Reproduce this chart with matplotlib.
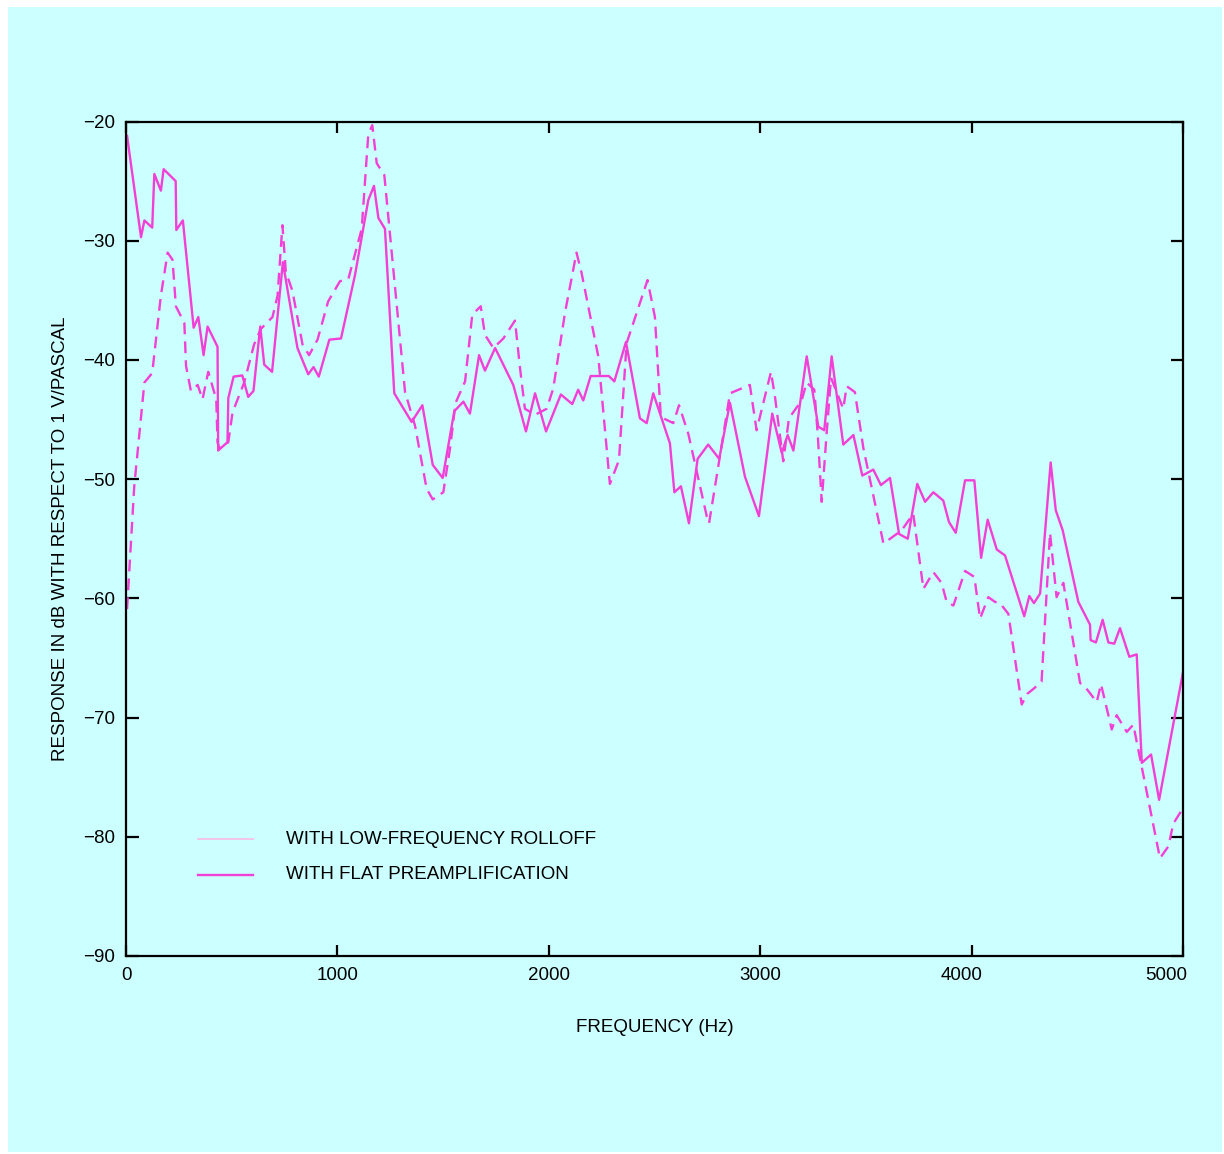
"""Microphone response vs frequency, with and without low-frequency rolloff."""

import numpy as np
import matplotlib
matplotlib.use("Agg")
import matplotlib.pyplot as plt
from matplotlib.patches import Rectangle
from matplotlib.transforms import ScaledTranslation

# Flat preamplification (solid curve)
flat_hz = [5, 71, 87, 124, 134, 165, 178, 235, 238, 269, 320, 342, 367, 386, 433,
           436, 480, 484, 509, 550, 578, 603, 635, 654, 691, 742, 811, 862, 887,
           912, 962, 1017, 1083, 1146, 1173, 1194, 1225, 1269, 1351, 1402, 1451,
           1498, 1553, 1596, 1627, 1670, 1698, 1746, 1832, 1892, 1935, 1987, 2057,
           2111, 2139, 2163, 2198, 2284, 2310, 2365, 2431, 2463, 2494, 2573, 2594,
           2625, 2663, 2704, 2754, 2806, 2857, 2928, 2994, 3057, 3102, 3130, 3157,
           3220, 3275, 3303, 3338, 3393, 3441, 3483, 3535, 3571, 3614, 3657, 3698,
           3743, 3780, 3819, 3866, 3893, 3925, 3969, 4013, 4045, 4076, 4119, 4158,
           4249, 4273, 4295, 4324, 4374, 4398, 4431, 4505, 4560, 4563, 4588, 4620,
           4647, 4675, 4702, 4746, 4781, 4805, 4849, 4887, 5000]
flat_db = [-21.2, -29.7, -28.3, -28.9, -24.4, -25.8, -24.0, -25.0, -29.1, -28.3,
           -37.3, -36.4, -39.6, -37.2, -38.9, -47.6, -46.9, -43.2, -41.4, -41.3,
           -43.1, -42.6, -37.2, -40.4, -41.0, -31.8, -39.0, -41.2, -40.6, -41.4,
           -38.3, -38.2, -32.9, -26.6, -25.4, -28.1, -29.0, -42.8, -45.2, -43.8,
           -48.8, -49.9, -44.3, -43.5, -44.5, -39.6, -40.9, -39.0, -42.1, -46.0,
           -42.8, -46.0, -42.9, -43.7, -42.5, -43.4, -41.35, -41.35, -41.8, -38.5,
           -44.9, -45.3, -42.8, -47.0, -51.1, -50.6, -53.7, -48.3, -47.1, -48.3,
           -43.6, -49.8, -53.1, -44.5, -47.8, -46.3, -47.6, -39.7, -45.6, -45.9,
           -39.7, -47.1, -46.3, -49.7, -49.2, -50.5, -49.9, -54.6, -55.0, -50.4,
           -51.9, -51.1, -51.8, -53.6, -54.5, -50.1, -50.1, -56.6, -53.4, -55.9,
           -56.4, -61.5, -59.8, -60.4, -59.6, -48.6, -52.6, -54.3, -60.3, -62.2,
           -63.5, -63.7, -61.8, -63.7, -63.8, -62.5, -64.9, -64.7, -73.8, -73.1,
           -76.9, -66.2]

# Low-frequency rolloff (dashed curve)
roll_hz = [5, 39, 87, 124, 165, 197, 220, 236, 276, 284, 307, 339, 362, 389, 427,
           433, 441, 484, 504, 559, 606, 638, 693, 717, 740, 756, 787, 835, 866,
           906, 956, 1012, 1052, 1115, 1146, 1165, 1186, 1222, 1320, 1367, 1422,
           1451, 1501, 1533, 1559, 1604, 1638, 1678, 1698, 1738, 1785, 1840, 1864,
           1887, 1935, 1990, 2021, 2077, 2131, 2155, 2234, 2289, 2332, 2368, 2467,
           2502, 2530, 2589, 2616, 2660, 2747, 2758, 2802, 2857, 2951, 2983, 3051,
           3070, 3109, 3136, 3196, 3220, 3256, 3272, 3291, 3314, 3335, 3393, 3409,
           3448, 3488, 3583, 3669, 3724, 3772, 3819, 3858, 3882, 3914, 3969, 4013,
           4040, 4079, 4111, 4134, 4174, 4237, 4264, 4292, 4331, 4371, 4402, 4434,
           4513, 4536, 4592, 4612, 4663, 4686, 4734, 4765, 4891, 4931, 4954, 5000]
roll_db = [-60.9, -50.6, -41.9, -41.1, -34.6, -31.0, -31.6, -35.5, -36.9, -40.5,
           -42.6, -42.1, -43.3, -41.0, -43.3, -46.9, -47.4, -46.9, -44.4, -41.9,
           -38.7, -37.4, -36.4, -34.6, -28.7, -32.6, -34.2, -38.7, -39.6, -38.3,
           -35.1, -33.4, -33.2, -29.0, -21.1, -20.3, -23.5, -24.5, -42.7, -45.5,
           -50.8, -51.7, -51.1, -47.4, -43.6, -41.8, -36.2, -35.5, -37.9, -39.0,
           -38.2, -36.7, -40.7, -44.1, -44.6, -44.1, -42.4, -36.0, -31.0, -32.7,
           -39.7, -50.4, -48.4, -38.6, -33.3, -36.4, -44.8, -45.3, -43.8, -46.2,
           -53.1, -53.7, -48.9, -42.8, -42.1, -45.9, -41.0, -43.1, -48.5, -44.9,
           -43.4, -41.9, -42.5, -46.2, -51.9, -46.2, -41.5, -44.1, -42.2, -42.7,
           -47.4, -55.4, -54.3, -52.9, -59.2, -57.8, -58.7, -60.3, -60.6, -57.7,
           -58.2, -61.7, -59.9, -60.3, -60.4, -61.3, -68.9, -68.0, -67.6, -67.0,
           -54.5, -59.9, -58.7, -67.1, -67.4, -68.7, -67.2, -71.0, -69.8, -71.2,
           -70.6, -81.8, -80.8, -78.9, -77.6]

X_TICKS = [0, 1000, 2000, 3000, 4000, 5000]
Y_TICKS = [-90, -80, -70, -60, -50, -40, -30, -20]

LINE = "#f23fd6"
LEGEND_PALE = "#f7bfe9"
BG = "#ccffff"

plt.rcParams.update({
    "font.family": ["Liberation Sans", "DejaVu Sans"],
    "font.size": 13,
    "axes.linewidth": 1.6,
    "xtick.direction": "in",
    "ytick.direction": "in",
    "xtick.top": True,
    "ytick.right": True,
    "xtick.major.width": 1.6,
    "ytick.major.width": 1.6,
    "xtick.major.size": 8,
    "ytick.major.size": 9,
})

fig = plt.figure(figsize=(12.24, 11.54), dpi=100)
fig.patch.set_facecolor("white")
bg_rect = Rectangle((8 / 1224, 2 / 1154), 1214 / 1224, 1145 / 1154,
                    transform=fig.transFigure, facecolor=BG, edgecolor="none")
bg_rect.set_zorder(-10)
fig.add_artist(bg_rect)

ax = fig.add_axes([126 / 1224, 1 - 956 / 1154, 1057 / 1224, 834.5 / 1154])
ax.set_zorder(1)
ax.set_facecolor(BG)

ax.plot(roll_hz, roll_db, color=LINE, lw=1.7, ls=(0, (5, 3)))
ax.plot(flat_hz, flat_db, color=LINE, lw=1.7)

ax.set_xlim(0, 5000)
ax.set_ylim(-90, -20)
ax.set_xticks(X_TICKS)
ax.set_yticks(Y_TICKS)
ax.set_yticklabels([f"\u2212{abs(v)}" for v in Y_TICKS])
ax.tick_params(axis="both", labelsize=13.5, colors="black", pad=8)

# the last two x labels sit a little left of their ticks in the original
for lab, dx in zip(ax.get_xticklabels()[-2:], [-10, -17]):
    lab.set_transform(lab.get_transform() + ScaledTranslation(dx / 100, 0, fig.dpi_scale_trans))

ax.set_xlabel("FREQUENCY (Hz)", fontsize=13.5, labelpad=25)
ax.set_ylabel("RESPONSE IN dB WITH RESPECT TO 1 V/PASCAL", fontsize=13.5, labelpad=10)

# legend drawn by hand, as in the original
ax.plot([340, 600], [-80.2, -80.2], color=LEGEND_PALE, lw=1.3)
ax.plot([340, 600], [-83.2, -83.2], color=LINE, lw=1.7)
ax.text(755, -80.2, "WITH LOW-FREQUENCY ROLLOFF", fontsize=13.5, va="center")
ax.text(755, -83.2, "WITH FLAT PREAMPLIFICATION", fontsize=13.5, va="center")

fig.savefig("out.png", dpi=100, facecolor="white")
